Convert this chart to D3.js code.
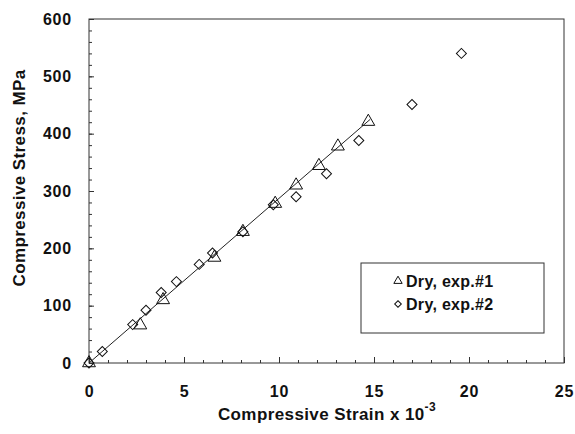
<!DOCTYPE html>
<html>
<head>
<meta charset="utf-8">
<script src="https://cdn.jsdelivr.net/npm/d3@7"></script>
<style>
  body { margin: 0; background: #fff; }
  text { font-family: "Liberation Sans", Arial, sans-serif; font-weight: bold; fill: #111; }
</style>
</head>
<body>
<div id="chart"></div>
<script>
// data (strain x10^-3, stress MPa)
var exp1Strain = [0, 2.7, 3.9, 6.6, 8.1, 9.8, 10.9, 12.1, 13.1, 14.7];
var exp1Stress = [0, 66, 110, 184, 229, 278, 310, 344, 378, 421];
var exp2Strain = [0, 0.7, 2.3, 3.0, 3.8, 4.6, 5.8, 6.5, 8.1, 9.7, 10.9, 12.5, 14.2, 17.0, 19.6];
var exp2Stress = [0, 20, 67, 92, 123, 142, 172, 192, 229, 276, 290, 330, 388, 451, 540];
var fitStrain = [0, 14.8];
var fitStress = [0, 425];
var xTicks = [0, 5, 10, 15, 20, 25];
var yTicks = [0, 100, 200, 300, 400, 500, 600];
var legendLabels = ["Dry, exp.#1", "Dry, exp.#2"];

var width = 575, height = 434;
var plotL = 89, plotR = 564, plotT = 19, plotB = 363;

var svg = d3.select("#chart").append("svg").attr("width", width).attr("height", height);

var x = d3.scaleLinear().domain([0, 25]).range([plotL, plotR]);
var y = d3.scaleLinear().domain([0, 600]).range([plotB, plotT]);

function styleTicks(g) {
  g.select(".domain").remove();
  g.selectAll("line").attr("stroke", "#333");
}
function styleLabels(g) {
  g.select(".domain").remove();
  g.selectAll("text").style("font-size", "16px").style("font-family", "Liberation Sans, Arial, sans-serif")
    .style("font-weight", "bold").attr("fill", "#111").attr("letter-spacing", "0.8px");
}

// frame
svg.append("rect")
  .attr("x", plotL).attr("y", plotT)
  .attr("width", plotR - plotL).attr("height", plotB - plotT)
  .attr("fill", "none").attr("stroke", "#333").attr("stroke-width", 1);

// x minor + major ticks (inward)
svg.append("g")
  .attr("transform", "translate(0," + plotB + ")")
  .call(d3.axisTop(x).ticks(25).tickSize(3).tickFormat(""))
  .call(styleTicks);
svg.append("g")
  .attr("transform", "translate(0," + plotB + ")")
  .call(d3.axisTop(x).tickValues(xTicks).tickSize(6).tickFormat(""))
  .call(styleTicks);
svg.append("g")
  .attr("transform", "translate(0," + plotB + ")")
  .call(d3.axisBottom(x).tickValues(xTicks).tickSize(0).tickPadding(23).tickFormat(d3.format("d")))
  .call(styleLabels);

// y ticks
svg.append("g")
  .attr("transform", "translate(" + plotL + ",0)")
  .call(d3.axisRight(y).ticks(30).tickSize(3).tickFormat(""))
  .call(styleTicks);
svg.append("g")
  .attr("transform", "translate(" + plotL + ",0)")
  .call(d3.axisRight(y).tickValues(yTicks).tickSize(5).tickFormat(""))
  .call(styleTicks);
svg.append("g")
  .attr("transform", "translate(" + plotL + ",0)")
  .call(d3.axisLeft(y).tickValues(yTicks).tickSize(0).tickPadding(17))
  .call(styleLabels);

// axis titles
var xt = svg.append("text").attr("x", 327).attr("y", 420)
  .attr("text-anchor", "middle").attr("letter-spacing", "0.4px").style("font-size", "17px");
xt.append("tspan").text("Compressive Strain x 10");
xt.append("tspan").attr("dy", -9).style("font-size", "12px").text("-3");

svg.append("text")
  .attr("transform", "translate(25,178) rotate(-90)")
  .attr("text-anchor", "middle").attr("letter-spacing", "0.4px")
  .style("font-size", "17px")
  .text("Compressive Stress, MPa");

// fit line
var line = d3.line().x(function (d) { return x(d[0]); }).y(function (d) { return y(d[1]); });
svg.append("path")
  .datum(d3.zip(fitStrain, fitStress))
  .attr("d", line)
  .attr("fill", "none").attr("stroke", "#222").attr("stroke-width", 1);

var triSym = d3.symbol().type(d3.symbolTriangle).size(72);
var diaSym = d3.symbol().type(d3.symbolSquare).size(50);

svg.append("g").selectAll("path")
  .data(d3.zip(exp2Strain, exp2Stress))
  .enter().append("path")
  .attr("d", diaSym)
  .attr("transform", function (d) { return "translate(" + x(d[0]) + "," + y(d[1]) + ") rotate(45)"; })
  .attr("fill", "none").attr("stroke", "#111").attr("stroke-width", 1);

svg.append("g").selectAll("path")
  .data(d3.zip(exp1Strain, exp1Stress))
  .enter().append("path")
  .attr("d", triSym)
  .attr("transform", function (d) { return "translate(" + x(d[0]) + "," + y(d[1]) + ")"; })
  .attr("fill", "none").attr("stroke", "#111").attr("stroke-width", 1);

// legend
var lg = svg.append("g");
lg.append("rect").attr("x", 361).attr("y", 263).attr("width", 183).attr("height", 70)
  .attr("fill", "#fff").attr("stroke", "#333").attr("stroke-width", 1);
var legSyms = [d3.symbol().type(d3.symbolTriangle).size(30), d3.symbol().type(d3.symbolSquare).size(22)];
legendLabels.forEach(function (lab, i) {
  var cy = 281 + i * 23;
  lg.append("path").attr("d", legSyms[i])
    .attr("transform", "translate(398," + cy + ")" + (i === 1 ? " rotate(45)" : ""))
    .attr("fill", "none").attr("stroke", "#111").attr("stroke-width", 1);
  lg.append("text").attr("x", 406).attr("y", cy + 6).attr("letter-spacing", "0.3px")
    .style("font-size", "16px").text(lab);
});
</script>
</body>
</html>
